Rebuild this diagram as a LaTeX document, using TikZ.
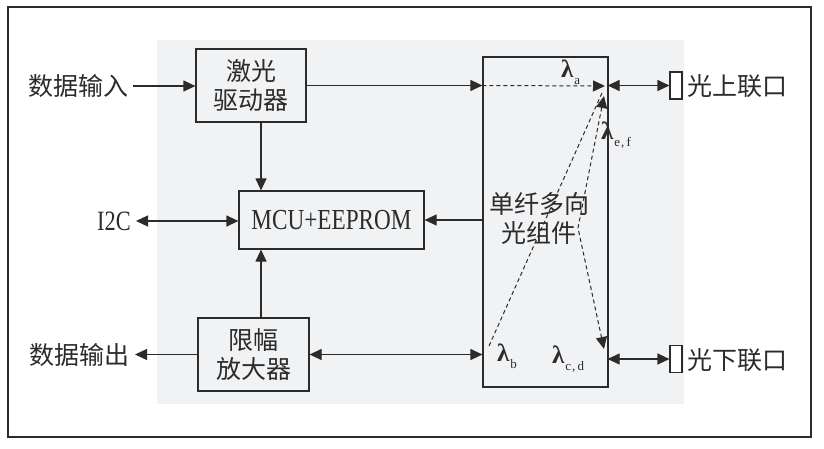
\documentclass[tikz,border=0pt]{standalone}
\usepackage{fontspec}
\setmainfont{Liberation Serif}
\newfontfamily\cjk{Noto Sans CJK SC}
\newfontfamily\narrowserif[FakeStretch=0.8]{Liberation Serif}
\usetikzlibrary{arrows.meta,positioning}
\definecolor{osaInk}{HTML}{2B2B2B}
\definecolor{osaPanel}{HTML}{F1F2F4}
\newcommand{\wavelen}[1]{{\fontsize{25}{25}\selectfont\bfseries λ}\kern1pt\raisebox{-7pt}{\fontsize{13}{13}\selectfont #1}}
\tikzset{
  every picture/.style={text=osaInk},
  osa box/.style={draw=osaInk, line width=1.2pt, inner sep=0pt},
  cn text/.style={font=\cjk\fontsize{25}{29}\selectfont, align=center, inner sep=0pt},
  en text/.style={font=\narrowserif\fontsize{29}{29}\selectfont, inner sep=0pt},
  osa tip/.style={-{Triangle[length=12pt,width=11pt]}},
  osa arrow/.style={-{Triangle[length=12pt,width=11pt]}, draw=osaInk, line width=1.2pt},
  osa both/.style={{Triangle[length=12pt,width=11pt]}-{Triangle[length=12pt,width=11pt]},
    draw=osaInk, line width=1.2pt},
  osa beam/.style={draw=osaInk, line width=1pt, dash pattern=on 4pt off 3pt},
  osa port/.style={draw=osaInk, line width=1.1pt, fill=white, inner sep=0pt,
    minimum width=12pt, minimum height=27pt}
}

\begin{document}
\begin{tikzpicture}[x=1pt,y=-1pt]
  \useasboundingbox (0,0) rectangle (824,449);
  \fill[osaPanel] (157,40) rectangle (684,404);
  \draw[osaInk, line width=1.2pt] (8,7) rectangle (811,437);

  % blocks
  \node[osa box, minimum width=110pt, minimum height=73pt] (drv) at (251,85.5) {};
  \node[cn text] at (drv) {激光\\驱动器};
  \node[osa box, minimum width=185pt, minimum height=58pt] (mcu) at (331.5,220) {};
  \node[en text] at (mcu) {MCU+EEPROM};
  \node[osa box, minimum width=111pt, minimum height=73pt] (lim) at (253.5,354.5) {};
  \node[cn text] at (lim) {限幅\\放大器};
  \node[osa box, minimum width=125pt, minimum height=330pt] (osa) at (545.5,222) {};
  \node[cn text] (osatxt) at (539,218) {单纤多向\\光组件};

  % outside signals
  \node[cn text, anchor=east] (din) at (129,86) {数据输入};
  \node[cn text, anchor=east] (dout) at (130,355) {数据输出};
  \node[en text, anchor=east, font=\narrowserif\fontsize{28}{28}\selectfont] (iic) at (131,221) {I2C};
  \node[osa port] (upport) at (676,85.5) {};
  \node[osa port] (dnport) at (676,359) {};
  \node[cn text, anchor=west] (uptxt) at (687,86) {光上联口};
  \node[cn text, anchor=west] (dntxt) at (687,360) {光下联口};

  % electrical links
  \draw[osa arrow, shorten <=4pt] (din.east) -- (din.east -| drv.west);
  \draw[osa arrow] (drv.east) -- (drv.east -| osa.west);
  \draw[osa arrow] ([xshift=10pt]drv.south) -- ([xshift=10pt]drv.south |- mcu.north);
  \draw[osa arrow] ([xshift=10pt]drv.south |- lim.north) -- ([xshift=10pt]drv.south |- mcu.south);
  \draw[osa both, shorten <=5pt] (iic.east) -- (iic.east -| mcu.west);
  \draw[osa arrow] (osa.west |- mcu.east) -- (mcu.east);
  \draw[osa both] (lim.east) -- (lim.east -| osa.west);
  \draw[osa arrow, shorten >=5pt] (lim.west) -- (lim.west -| dout.east);
  \draw[osa both] ([xshift=-1pt]osa.east |- upport.west) -- (upport.west);
  \draw[osa both] ([xshift=-1pt]osa.east |- dnport.west) -- (dnport.west);

  % optical paths inside the component
  \coordinate (tipA) at (605,86);
  \coordinate (tipUp) at (604,96);
  \coordinate (tipB) at (489,346);
  \coordinate (bend) at (578,228);
  \coordinate (tipCD) at (604,349);
  \draw[osa beam, osa tip] (drv.east -| osa.west) -- (tipA);
  \draw[osa beam] ([shift={(-2pt,3pt)}]tipUp) -- (tipB);
  \draw[osa beam, {Triangle[length=12pt,width=11pt]}-{Triangle[length=12pt,width=11pt]}]
    (tipUp) -- (bend) -- (tipCD);

  % wavelengths
  \node[anchor=base west, inner sep=0pt] (lama) at (561,78) {\wavelen{a}};
  \node[anchor=base west, inner sep=0pt] (lamef) at (601,140) {\wavelen{e\kern1pt,\kern2pt f}};
  \node[anchor=base west, inner sep=0pt] (lamb) at (497,361) {\wavelen{b}};
  \node[anchor=base west, inner sep=0pt] (lamcd) at (552,363) {\wavelen{c\kern1pt,\kern2pt d}};
\end{tikzpicture}
\end{document}
